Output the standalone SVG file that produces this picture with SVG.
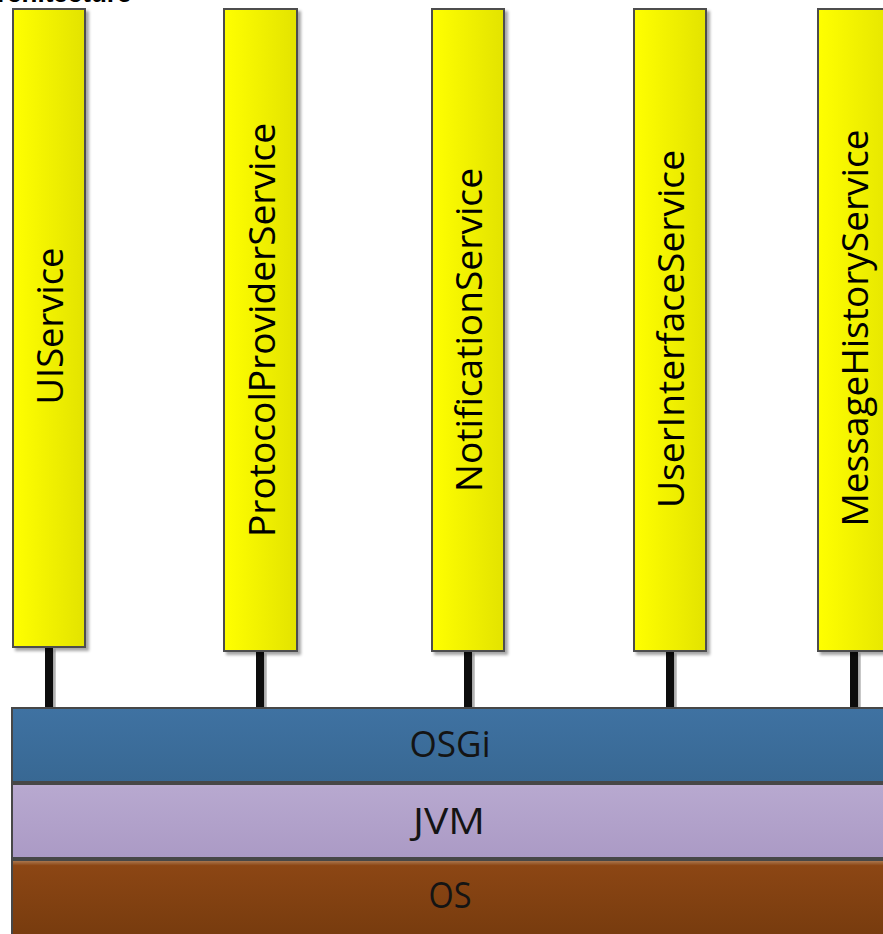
<svg xmlns="http://www.w3.org/2000/svg" width="883" height="934" viewBox="0 0 883 934">
  <defs>
    <linearGradient id="yellowFill" x1="0" y1="0" x2="1" y2="0">
      <stop offset="0" stop-color="#ffff00"/>
      <stop offset="1" stop-color="#e3e300"/>
    </linearGradient>
    <linearGradient id="osgiFill" x1="0" y1="0" x2="0" y2="1">
      <stop offset="0" stop-color="#3f72a2"/>
      <stop offset="1" stop-color="#386893"/>
    </linearGradient>
    <linearGradient id="jvmFill" x1="0" y1="0" x2="0" y2="1">
      <stop offset="0" stop-color="#bcadd2"/>
      <stop offset="0.06" stop-color="#b7a8cf"/>
      <stop offset="1" stop-color="#ab9ac5"/>
    </linearGradient>
    <linearGradient id="osFill" x1="0" y1="0" x2="0" y2="1">
      <stop offset="0" stop-color="#b0805a"/>
      <stop offset="0.07" stop-color="#8c4614"/>
      <stop offset="1" stop-color="#763b0e"/>
    </linearGradient>
    <filter id="shadow" x="-20%" y="-5%" width="150%" height="115%">
      <feDropShadow dx="3" dy="3" stdDeviation="1.5" flood-color="#000" flood-opacity="0.35"/>
    </filter>
  </defs>
  <style>
    .svc { fill: url(#yellowFill); stroke: #4d4d4d; stroke-width: 2; filter: url(#shadow); }
    .svcLabel { font-family: "Open Sans", "Liberation Sans", sans-serif; font-size: 37px; fill: #000; text-anchor: middle; }
    .layer { stroke: #474747; stroke-width: 2; }
    .layerLabel { font-family: "Open Sans", "Liberation Sans", sans-serif; font-size: 37px; fill: #141414; text-anchor: middle; }
    .link { fill: #0d0d0d; filter: url(#shadow); }
    .caption { font-family: "Liberation Sans", Arial, sans-serif; font-size: 26px; font-weight: bold; fill: #000; }
  </style>

  <rect width="883" height="934" fill="#ffffff"/>

  <!-- page heading, clipped by the top edge -->
  <text class="caption" x="-3" y="2">rchitecture</text>

  <!-- connectors from each service down to the OSGi layer -->
  <g id="connectors">
    <rect class="link" x="45" y="647" width="8" height="61"/>
    <rect class="link" x="256" y="651" width="8" height="57"/>
    <rect class="link" x="464" y="651" width="8" height="57"/>
    <rect class="link" x="666" y="651" width="8" height="57"/>
    <rect class="link" x="850" y="651" width="8" height="57"/>
    <rect x="46" y="708" width="10" height="5" fill="#a7bbd0"/>
  </g>

  <!-- platform layers -->
  <g id="layer-os">
    <rect class="layer" x="12" y="860" width="880" height="80" fill="url(#osFill)"/>
    <text class="layerLabel" x="450" y="908" textLength="43" lengthAdjust="spacingAndGlyphs">OS</text>
  </g>
  <g id="layer-jvm">
    <rect class="layer" x="12" y="784" width="880" height="74" fill="url(#jvmFill)"/>
    <text class="layerLabel" x="449" y="834" textLength="72" lengthAdjust="spacingAndGlyphs">JVM</text>
  </g>
  <g id="layer-osgi">
    <rect class="layer" x="12" y="708" width="880" height="74" fill="url(#osgiFill)"/>
    <text class="layerLabel" x="450" y="757" textLength="81" lengthAdjust="spacingAndGlyphs">OSGi</text>
  </g>

  <!-- services -->
  <g id="svc-uiservice">
    <rect class="svc" x="13" y="9" width="72" height="638"/>
    <text class="svcLabel" transform="translate(49,326) rotate(-90)" x="0" y="13.5" textLength="157" lengthAdjust="spacingAndGlyphs">UIService</text>
  </g>
  <g id="svc-protocolprovider">
    <rect class="svc" x="224" y="9" width="73" height="642"/>
    <text class="svcLabel" transform="translate(261,330) rotate(-90)" x="0" y="13.5" textLength="414" lengthAdjust="spacingAndGlyphs">ProtocolProviderService</text>
  </g>
  <g id="svc-notification">
    <rect class="svc" x="432" y="9" width="72" height="642"/>
    <text class="svcLabel" transform="translate(468,330) rotate(-90)" x="0" y="13.5" textLength="324" lengthAdjust="spacingAndGlyphs">NotificationService</text>
  </g>
  <g id="svc-userinterface">
    <rect class="svc" x="634" y="9" width="72" height="642"/>
    <text class="svcLabel" transform="translate(670,329) rotate(-90)" x="0" y="13.5" textLength="358" lengthAdjust="spacingAndGlyphs">UserInterfaceService</text>
  </g>
  <g id="svc-messagehistory">
    <rect class="svc" x="818" y="9" width="80" height="642"/>
    <text class="svcLabel" transform="translate(854,328) rotate(-90)" x="0" y="13.5" textLength="397" lengthAdjust="spacingAndGlyphs">MessageHistoryService</text>
  </g>
</svg>
